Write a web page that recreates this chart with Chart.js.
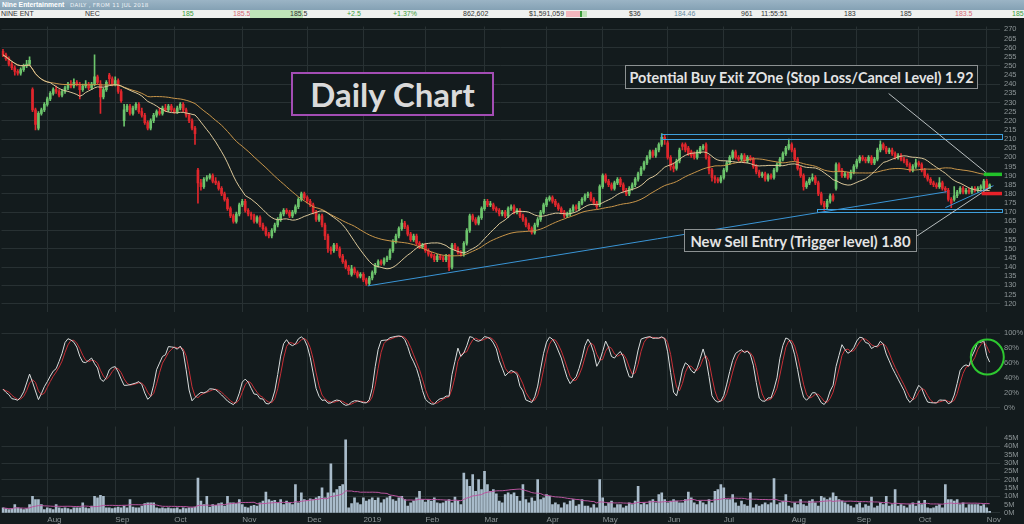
<!DOCTYPE html>
<html><head><meta charset="utf-8">
<script src="https://cdn.jsdelivr.net/npm/chart.js@4.4.1/dist/chart.umd.min.js"></script>
<style>
html,body{margin:0;padding:0;background:#131b1d;width:1024px;height:524px;overflow:hidden;font-family:'Liberation Sans',Arial,sans-serif;}
#titlebar{position:absolute;left:0;top:0;width:1024px;height:10px;background:linear-gradient(#9bb4c5,#84a1b4);}
#titlebar .t1{position:absolute;left:2px;top:0;font-size:6.8px;line-height:10px;font-weight:bold;color:#fff;font-family:'Liberation Sans',Arial,sans-serif;}
#titlebar .t2{position:absolute;left:70px;top:0;font-size:5.5px;line-height:10px;color:#eef3f6;font-family:'DejaVu Sans',sans-serif;letter-spacing:0.3px;}
#quote{position:absolute;left:0;top:10px;width:1024px;height:8px;background:#eef0ee;}
.q{position:absolute;top:0;font-size:7px;line-height:8px;color:#333;white-space:nowrap;}
.g{color:#3c9c3c}.p{color:#d66a78}.b{color:#6a8ca2}
canvas{position:absolute;left:0;}
.box{position:absolute;box-sizing:border-box;background:#131b1d;color:#e4e4e4;display:flex;align-items:center;justify-content:center;white-space:nowrap;font-family:Lato,'Open Sans',sans-serif;font-weight:700;}
</style></head>
<body>
<div id="titlebar"><span class="t1">Nine Entertainment</span><span class="t2">DAILY , FROM 11 JUL 2018</span></div>
<div id="quote">
 <span class="q" style="left:1px">NINE ENT</span>
 <span class="q" style="left:85px">NEC</span>
 <span class="q g" style="left:182px">185</span>
 <span class="q p" style="left:233px">185.5</span>
 <span style="position:absolute;left:250px;top:0;width:53px;height:8px;background:#bfe3b8"></span>
 <span class="q" style="left:290px">185.5</span>
 <span class="q g" style="left:347px">+2.5</span>
 <span class="q g" style="left:393px">+1.37%</span>
 <span class="q" style="left:463px">862,602</span>
 <span class="q" style="left:529px">$1,591,059</span>
 <span style="position:absolute;left:566px;top:1px;width:14px;height:6px;background:#f2b6bd"></span>
 <span style="position:absolute;left:580px;top:1px;width:2px;height:6px;background:#3a9a3a"></span>
 <span style="position:absolute;left:582px;top:1px;width:5px;height:6px;background:#bfe3b8"></span>
 <span class="q" style="left:629px">$36</span>
 <span class="q b" style="left:674px">184.46</span>
 <span class="q" style="left:741px">961</span>
 <span class="q" style="left:761px">11:55:51</span>
 <span class="q" style="left:844px">183</span>
 <span class="q" style="left:900px">185</span>
 <span class="q p" style="left:955px">183.5</span>
 <span class="q g" style="left:1012px">185.5</span>
</div>
<canvas id="price" width="1024" height="302" style="top:18px"></canvas>
<canvas id="stoch" width="1024" height="98" style="top:320px"></canvas>
<canvas id="vol" width="1024" height="106" style="top:418px"></canvas>
<div class="box" style="left:291px;top:72px;width:203px;height:44px;border:2px solid #a34db4;font-size:33px;color:#dadada;">Daily Chart</div>
<div class="box" style="left:625px;top:65px;width:353px;height:24px;border:1px solid #8c9192;font-size:14.4px;">Potential Buy Exit ZOne (Stop Loss/Cancel Level) 1.92</div>
<div class="box" style="left:684px;top:229px;width:233px;height:23px;border:1px solid #8c9192;font-size:14.8px;">New Sell Entry (Trigger level) 1.80</div>
<script>
// ---------------- DATA ----------------
const opens=[258,256,254,251,249,247,246,248,250,251,
237,226,216,224,226,229,232,235,237,236,
234,236,238,240,239,241,240,237,239,240,
238,240,244,240,233,237,245,243,240,242,
236,220,226,228,224,227,229,225,223,219,
216,220,223,225,224,227,226,228,226,225,
227,229,226,223,220,216,193,186,184,188,
189,190,187,186,183,180,177,172,168,165,
169,174,176,171,169,168,165,167,163,161,
158,157,160,163,166,169,171,170,168,170,
173,177,180,178,176,174,170,166,168,163,
157,150,149,152,150,146,143,140,136,139,
137,135,136,133,131,134,137,141,143,142,
144,145,149,154,157,161,164,162,158,155,
157,153,151,152,149,147,146,144,146,145,
144,146,140,152,150,148,147,153,160,168,
166,164,167,172,176,174,174,172,171,169,
170,168,172,173,170,171,168,166,163,161,
159,163,166,170,174,177,178,176,174,172,
170,168,169,171,173,172,175,177,179,180,
177,175,174,184,190,187,185,183,186,188,
185,182,180,183,185,188,191,194,197,200,
203,201,204,207,211,208,200,195,194,198,
207,207,205,203,202,200,203,205,207,200,
193,189,188,187,189,193,197,200,203,200,
199,201,198,200,199,195,192,190,191,188,
190,189,193,196,199,202,205,207,204,199,
194,190,184,186,188,189,186,180,175,173,
176,179,183,196,193,190,191,189,192,195,
198,200,199,198,200,197,199,204,207,205,
203,204,202,200,201,199,198,196,193,195,
197,196,193,190,188,186,185,184,186,183,
182,177,177,179,181,183,181,182,181,183,
182,183,183,187,183];
const highs=[259,257,255,252,250,248,249,251,253,255,
238,227,225,227,230,233,236,238,239,237,
237,239,241,242,243,242,241,240,242,241,
241,256,245,242,238,242,246,244,244,243,
237,229,229,229,228,230,230,227,224,220,
221,224,226,227,228,229,229,229,227,228,
230,230,227,224,221,217,194,188,189,190,
191,191,189,187,184,181,178,173,169,170,
175,177,177,172,170,169,168,168,164,162,
159,161,164,167,170,172,172,171,171,174,
178,181,181,179,177,175,171,169,169,164,
158,151,153,153,151,147,144,141,141,140,
138,137,137,134,135,138,142,144,144,145,
146,150,155,158,162,166,165,163,159,158,
158,154,153,153,150,148,147,147,147,146,
147,147,153,153,151,149,154,161,169,169,
167,168,173,177,177,176,175,173,172,171,
171,173,174,174,172,172,169,167,164,162,
164,167,171,175,178,179,179,177,175,173,
171,170,172,174,174,176,178,180,181,181,
178,176,185,191,191,188,186,187,189,189,
186,183,184,186,189,192,195,198,201,204,
204,205,208,213,212,209,201,197,199,205,
208,208,206,204,203,204,206,207,208,201,
194,190,189,190,194,198,201,204,204,201,
202,202,201,201,200,196,193,192,192,191,
191,194,197,200,203,206,210,208,205,200,
195,191,187,189,191,190,187,181,176,177,
180,180,197,197,194,192,192,193,196,199,
201,201,200,201,201,200,205,209,208,206,
205,205,203,202,202,200,199,197,196,199,
198,197,194,191,189,187,186,189,187,184,
183,178,184,182,184,184,183,183,184,184,
184,185,188,188,185.5];
const lows=[255,253,250,248,245,245,245,247,249,250,
225,215,215,223,225,228,231,234,235,233,
233,235,237,238,238,239,232,236,238,237,
237,239,240,224,232,236,240,239,239,235,
230,217,225,223,223,226,224,222,218,215,
215,219,222,223,223,225,225,225,224,224,
226,225,222,219,215,207,175,182,183,187,
188,186,185,182,179,176,171,167,164,164,
168,173,170,168,166,164,164,162,160,157,
156,156,159,162,165,168,169,167,167,169,
172,176,177,175,173,169,165,165,162,155,
148,147,148,149,145,142,139,136,135,136,
134,134,132,130,130,133,136,140,141,141,
143,144,148,153,156,160,161,157,154,154,
152,150,150,148,146,145,143,143,144,143,
143,138,139,149,147,146,146,152,159,165,
163,163,166,171,173,173,171,170,168,168,
167,167,171,169,169,167,165,162,160,158,
158,162,165,169,173,176,175,173,171,169,
167,167,168,170,171,171,174,176,178,176,
174,172,173,183,186,184,182,182,185,184,
181,179,179,182,184,187,190,193,196,199,
200,200,203,206,207,199,193,192,193,197,
204,203,201,200,199,199,202,204,199,191,
187,186,186,186,188,192,196,199,199,198,
198,197,197,198,194,191,189,189,187,187,
188,188,192,195,198,201,204,203,198,193,
189,182,183,185,187,185,179,174,171,172,
175,176,182,192,189,189,188,188,191,194,
197,198,197,197,196,196,198,203,204,202,
202,201,199,199,198,197,195,192,192,194,
195,192,189,187,185,184,183,183,182,181,
176,172.5,176,178,180,180,180,180,180,181,
181,182,182,182,183];
const closes=[256,254,251,249,247,246,248,250,251,253,
226,218,224,226,229,232,235,237,236,234,
236,238,240,239,241,240,237,239,240,238,
240,244,241,233,237,241,243,240,242,236,
231,226,228,224,227,229,225,223,219,216,
220,223,225,224,227,226,228,226,225,227,
229,226,223,220,216,213,186,184,188,189,
190,187,186,183,180,177,172,168,165,169,
174,176,171,169,168,165,167,163,161,158,
157,160,163,166,169,171,170,168,170,173,
177,180,178,176,174,170,166,168,163,157,
150,149,152,150,146,143,140,138,139,137,
135,136,133,131,134,137,141,143,142,144,
145,149,154,157,161,164,162,158,155,157,
153,151,152,149,147,146,144,146,145,144,
146,140,152,150,148,147,153,160,168,166,
164,167,172,176,174,174,172,171,169,170,
168,172,173,170,171,168,166,163,161,159,
163,166,170,174,177,178,176,174,172,170,
168,169,171,173,172,175,177,179,180,177,
175,173,184,190,187,185,183,186,188,185,
182,180,183,185,188,191,194,197,200,203,
201,204,207,211,210,200,195,194,198,204,
206,204,202,201,200,203,205,206,200,193,
189,188,187,189,193,197,200,203,200,199,
201,198,200,199,195,192,190,191,188,190,
189,193,196,199,202,205,207,204,199,194,
190,184,186,188,189,186,180,175,173,176,
179,177,196,193,190,191,189,192,195,198,
200,199,198,200,197,199,204,207,205,203,
204,202,200,201,199,198,196,193,195,197,
196,193,190,188,186,185,184,186,183,182,
177,175,179,181,183,181,182,181,183,182,
183,184,187,182.5,185];
// volume in millions
const volumes=[3,2.5,2,2.5,5,3,2.5,2,2.5,5,
10,8,8,5,2,3,2.5,2,5,3,
2.5,3,2.5,2,3,3,3,6,3,2.5,
4,10,9,10.5,10,3,3,2.5,3,3.5,
3,4,3,8,3.5,3,3,4,5.5,6,
6,6,3,2.5,3,2.5,3,2.5,2.5,3,
2,3,2.5,3,3,3.5,21,7,5,10,
3.5,5,4.5,5.5,6,4,10,6,6,5.5,
8,5,3.5,3,4,4.5,4,6,7,12.5,
8,7,7.5,6,8,5,7,6,5,17,
6,12,8,7.5,8.5,8,9,10,15,9,
12,29.5,12,14,16,17,44,3,5.5,9,
6,5,9,7,8,9,7.5,9,6,8,
9,10,8,7,9,10,8,4,6,7,
9,13,8,6.5,8,7,9,6,5.5,6,
7,8,6,9.5,7,5,24,20,16,23,
13,20,14,25,17,13,14,11.5,7,6,
11,12,11,12,10,7,17,8,6,9,
7,20,8,9,11,10,5,6,5,3,
6,5,7,8,4,5,8,4,4,3,
5,3,20,9,4,6,7,3,5,5,
3,4,6,5,7,16,5,6,5,7,
8,6,11,12,8,6,7,8,7,6,
6,8,12.5,9,6,5,7,6,5,8,
6,13,14,17,15,8,8,11,6,4,
7,5,4,12,3,5,4,5,6,5,
6,20.7,5,6,7,11,4,3,6,5,
8,5,4,7,8,6,4,10,9,8,
9,12,10,8,7,6,5,4,3,5,
6,3,5,4,9.5,3,4,6,5,10,
4,5,14,4,5,4,3,5,6,4,
7,5,7.5,3,2.5,3,4,5,3,17,
8,8,7,8,5,6,3,5,5,5,
5,4,5,3,0.86];
const monthTickIndex=[15,38,58,81,103,122,143,163,184,203,225,244,267,289,310,333];
const monthTickLabels=['Aug','Sep','Oct','Nov','Dec','2019','Feb','Mar','Apr','May','Jun','Jul','Aug','Sep','Oct','Nov'];
const priceTicks=[120,125,130,135,140,145,150,155,160,165,170,175,180,185,190,195,200,205,210,215,220,225,230,235,240,245,250,255,260,265,270];
const stochTicks=[0,20,40,60,80,100];
const volTicks=[0,5,10,15,20,25,30,35,40,45];
// annotations in data coordinates: [barIndex, price]
const trendLines=[[[123.5,129.7],[319.5,181.2]],[[319,172.5],[335.3,184.5]]];
const pointerLines=[[[299.8,234.9],[332.8,191.6]],[[303.6,150.8],[334.5,184]]];
const channels=[{fromIndex:222.7,low:210,high:212.9},{fromIndex:275.5,low:170.2,high:172}];
const levels=[{fromIndex:332,price:190.7,kind:'buy'},{fromIndex:331.3,price:180.2,kind:'sell'}];
const stochCircle={index:333.2,value:68};
const PAD_SLOTS=3;
const FAST_MA=17, SLOW_MA=40, VOL_MA=20, STO_K=10, STO_SMOOTH=3, STO_D=3;

// ---------------- STYLE ----------------
const GRID='#283133', AXIS='#8e9698', GREEN='#6cc46c', RED='#e0262c';
const AXFONT={size:7.5,family:"'Liberation Sans', Arial, sans-serif"};

function sma(arr,n){return arr.map((_,i)=>{const s=Math.max(0,i-n+1);let t=0;for(let j=s;j<=i;j++)t+=arr[j];return t/(i-s+1);});}
const labels=Array.from({length:closes.length+PAD_SLOTS},(_,i)=>String(i));
const rawK=closes.map((c,i)=>{const s=Math.max(0,i-STO_K+1);let hh=-Infinity,ll=Infinity;for(let j=s;j<=i;j++){hh=Math.max(hh,highs[j]);ll=Math.min(ll,lows[j]);}return hh===ll?50:100*(c-ll)/(hh-ll);});
const slowK=sma(rawK,STO_SMOOTH), slowD=sma(slowK,STO_D);

function xAxis(show){
  return {type:'category',offset:true,
    grid:{display:true,color:GRID,lineWidth:1,offset:false,drawTicks:false},
    border:{display:false},
    ticks:{display:show,autoSkip:false,maxRotation:0,minRotation:0,align:'start',padding:1,color:AXIS,font:{size:8,family:"'Liberation Sans', Arial, sans-serif"},callback:(v,i)=>monthTickLabels[i]},
    afterBuildTicks:s=>{s.ticks=monthTickIndex.map(v=>({value:v}));},
    afterFit:s=>{s.height=show?10:0;}
  };
}
function yAxis(min,max,ticks,gridFn,fmt){
  return {position:'right',min,max,
    grid:{color:c=>gridFn(c.tick&&c.tick.value)?GRID:'rgba(0,0,0,0)',drawTicks:false,lineWidth:1},
    border:{display:false},
    ticks:{color:AXIS,font:AXFONT,padding:4,autoSkip:false,callback:fmt},
    afterBuildTicks:s=>{s.ticks=ticks.map(v=>({value:v}));},
    afterFit:s=>{s.width=24;}
  };
}
const common={responsive:false,animation:false,devicePixelRatio:1,layout:{padding:{left:1.5,right:0,top:0,bottom:0}},
  plugins:{legend:{display:false},tooltip:{enabled:false}},events:[]};

const annotPlugin={id:'annots',afterDatasetsDraw(chart){
  const {ctx,chartArea:a,scales:{x,y}}=chart;
  const P=(pt)=>[x.getPixelForValue(pt[0]),y.getPixelForValue(pt[1])];
  ctx.save();
  channels.forEach(c=>{
    const x0=Math.round(x.getPixelForValue(c.fromIndex))+0.5, x1=a.right+2.5;
    const yt=Math.round(y.getPixelForValue(c.high))+0.5, yb=Math.round(y.getPixelForValue(c.low))+0.5;
    ctx.strokeStyle='#3f9fdc';ctx.lineWidth=1;ctx.strokeRect(x0,yt,x1-x0,yb-yt);
  });
  trendLines.forEach(l=>{const p0=P(l[0]),p1=P(l[1]);ctx.strokeStyle='#3a95d6';ctx.lineWidth=1;ctx.beginPath();ctx.moveTo(p0[0],p0[1]);ctx.lineTo(p1[0],p1[1]);ctx.stroke();});
  pointerLines.forEach(l=>{const p0=P(l[0]),p1=P(l[1]);ctx.strokeStyle='#b9bfc0';ctx.lineWidth=1;ctx.beginPath();ctx.moveTo(p0[0],p0[1]);ctx.lineTo(p1[0],p1[1]);ctx.stroke();});
  levels.forEach(l=>{const x0=x.getPixelForValue(l.fromIndex), yy=y.getPixelForValue(l.price);ctx.fillStyle=l.kind==='buy'?'#22c22a':'#e8222a';ctx.fillRect(x0,yy-1.75,a.right+2-x0,3.5);});
  ctx.restore();
}};

new Chart(document.getElementById('price'),{
  type:'bar',
  data:{labels,datasets:[
    {type:'line',data:sma(closes,FAST_MA),borderColor:'#dcc89a',borderWidth:1,pointRadius:0,tension:0,order:1},
    {type:'line',data:sma(closes,SLOW_MA),borderColor:'#c9964a',borderWidth:1,pointRadius:0,tension:0,order:2},
    {data:opens.map((o,i)=>[o,closes[i]]),backgroundColor:closes.map((c,i)=>c>=opens[i]?GREEN:RED),barThickness:2,minBarLength:1,grouped:false,order:3},
    {data:highs.map((h,i)=>[lows[i],h]),backgroundColor:closes.map((c,i)=>c>=opens[i]?GREEN:RED),barThickness:1,grouped:false,order:4}
  ]},
  options:Object.assign({},common,{scales:{x:xAxis(false),y:yAxis(115.7,271.55,priceTicks,v=>v%10===0,v=>String(v))}}),
  plugins:[annotPlugin]
});

const circlePlugin={id:'circ',afterDatasetsDraw(chart){
  const {ctx,scales:{x,y}}=chart;const cx=x.getPixelForValue(stochCircle.index),cy=y.getPixelForValue(stochCircle.value);
  ctx.save();ctx.strokeStyle='#2ec830';ctx.lineWidth=2;ctx.beginPath();ctx.ellipse(cx,cy,16.5,17.5,0,0,Math.PI*2);ctx.stroke();ctx.restore();
}};
new Chart(document.getElementById('stoch'),{
  type:'line',
  data:{labels,datasets:[
    {data:slowK,borderColor:'#d9dddd',borderWidth:1,pointRadius:0,tension:0,order:1},
    {data:slowD,borderColor:'#c83038',borderWidth:1,pointRadius:0,tension:0,order:2}
  ]},
  options:Object.assign({},common,{scales:{x:xAxis(false),y:yAxis(-2.2,106.3,stochTicks,v=>v===0||v===100,v=>v+'%')}}),
  plugins:[circlePlugin]
});

new Chart(document.getElementById('vol'),{
  type:'bar',
  data:{labels,datasets:[
    {type:'line',data:sma(volumes,VOL_MA),borderColor:'#b8559e',borderWidth:1,pointRadius:0,tension:0,order:1},
    {data:volumes,backgroundColor:'#a9bccb',barThickness:2,order:2}
  ]},
  options:Object.assign({},common,{scales:{x:xAxis(true),y:yAxis(-0.71,52,volTicks,v=>v%10===0,v=>v+'M')}})
});
</script>
</body></html>
